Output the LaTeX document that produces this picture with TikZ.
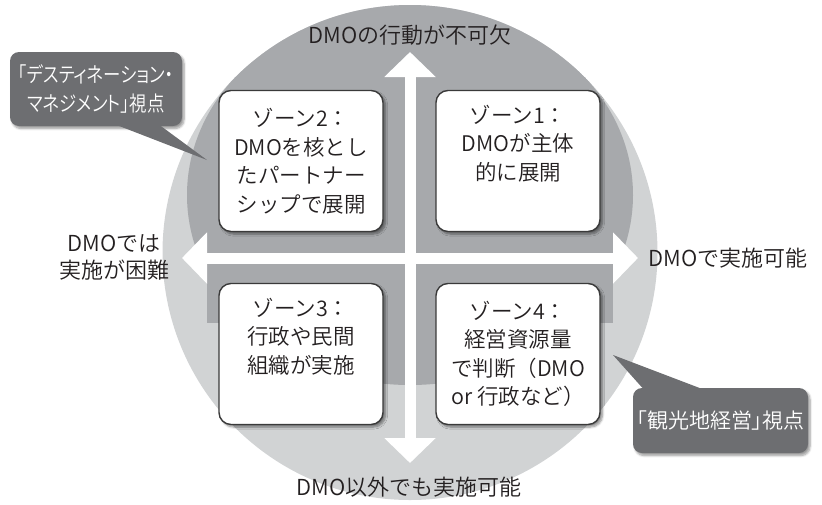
\documentclass[tikz,border=0pt]{standalone}
\usepackage{fontspec}
\setmainfont{Noto Sans CJK JP}[UprightFont={* DemiLight}, BoldFont={*}]
\newfontfamily\paltfont{Noto Sans CJK JP}[UprightFont={* DemiLight}, RawFeature=+palt]
\newfontfamily\paltnarrow{Noto Sans CJK JP}[UprightFont={* DemiLight}, RawFeature=+palt, FakeStretch=0.83]
\usetikzlibrary{arrows.meta,shadows.blur}
\definecolor{lightring}{HTML}{D1D3D4}
\definecolor{darkzone}{HTML}{A7A9AC}
\definecolor{calloutgray}{HTML}{6D6E71}
\definecolor{boxline}{HTML}{3A3A3A}
\definecolor{ink}{HTML}{231F20}
\tikzset{
  zonebox/.style={draw=boxline, line width=1.4pt, fill=white, rounded corners=12pt,
    minimum width=164pt, minimum height=141pt, align=center, text=ink,
    font=\fontsize{21.5}{28.5}\selectfont, inner sep=0pt,
    blur shadow={shadow xshift=2.5pt, shadow yshift=-2.5pt, shadow blur steps=6, shadow opacity=45}},
  callout/.style={fill=calloutgray, rounded corners=9pt, text=white, align=center,
    font=\paltfont\fontsize{21}{29}\selectfont, inner sep=0pt,
    blur shadow={shadow xshift=2pt, shadow yshift=-2.5pt, shadow blur steps=6, shadow opacity=40}},
  pointer/.style={fill=calloutgray},
  axislabel/.style={text=ink, align=center, font=\fontsize{22}{27}\selectfont, inner sep=0pt},
  axisarrow/.style={draw=white, line width=11pt,
    {Triangle[length=25pt,width=50pt]}-{Triangle[length=25pt,width=50pt]}}
}
\begin{document}
\begin{tikzpicture}[x=1pt,y=-1pt]
\useasboundingbox (0,0) rectangle (822,504);
% background discs
\fill[lightring] (410,252.5) circle [radius=247.5pt];
\begin{scope}
  \clip (410,252.5) circle [radius=247.5pt];
  \fill[darkzone] (410,195) ellipse [x radius=223pt, y radius=190pt];
  \fill[darkzone] (207,195) rectangle (613,323);
\end{scope}
% axes
\coordinate (L) at (182,258);
\coordinate (R) at (638,258);
\coordinate (T) at (410,52);
\coordinate (B) at (410,463);
\draw[axisarrow] (L) -- (R);
\draw[axisarrow] (T) -- (B);
% zone boxes
\node[zonebox] (z2) at (301,161) {ゾーン2：\\DMOを核とし\\たパートナー\\シップで展開};
\node[zonebox] (z1) at (518,161) {ゾーン1：\\DMOが主体\\的に展開\\\strut};
\node[zonebox] (z3) at (301,354) {ゾーン3：\\行政や民間\\組織が実施\\\strut};
\node[zonebox] (z4) at (518,354) {ゾーン4：\\経営資源量\\で判断（DMO\\or 行政など）};
% axis labels
\node[axislabel] (top) at (410,35) {DMOの行動が不可欠};
\node[axislabel] (bottom) at (409,487) {DMO以外でも実施可能};
\node[axislabel] (left) at (114,257.5) {DMOでは\\実施が困難};
\node[axislabel] (right) at (728,258) {DMOで実施可能};
% callouts
\node[callout, font=\paltnarrow\fontsize{21}{29}\selectfont, minimum width=172pt, minimum height=74pt] (c1) at (96,89)
  {「デスティネーション・\\マネジメント」視点};
\coordinate (c1tip) at (207,160);
\fill[pointer] ([xshift=16pt,yshift=3pt]c1.south) -- (c1tip) -- ([xshift=61pt,yshift=3pt]c1.south) -- cycle;
\node[callout, minimum width=175pt, minimum height=65pt] (c2) at (720.5,420.5)
  {\raisebox{-5pt}{「観光地経営」視点}};
\coordinate (c2tip) at (613,355);
\fill[pointer] ([xshift=-75.5pt,yshift=-3pt]c2.north) -- (c2tip) -- ([xshift=-13.5pt,yshift=-3pt]c2.north) -- cycle;
\end{tikzpicture}
\end{document}
